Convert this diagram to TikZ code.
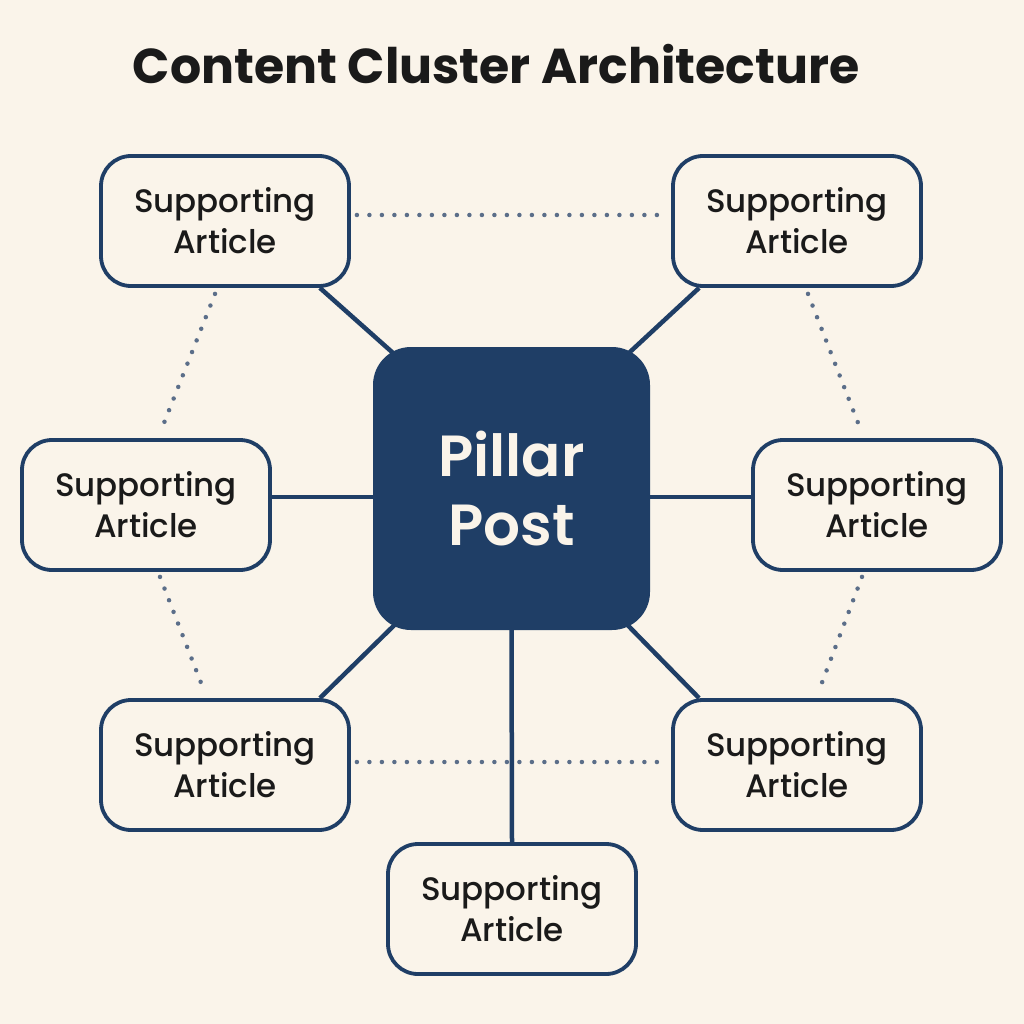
\documentclass[tikz,border=0pt]{standalone}
\usepackage{fontspec}
\setmainfont{Poppins}
\newfontfamily\medfont{Poppins Medium}
\newfontfamily\semifont{Poppins SemiBold}
\usetikzlibrary{calc,backgrounds}
\definecolor{bg}{HTML}{FAF4EA}
\definecolor{navy}{HTML}{1F3E66}
\definecolor{ink}{HTML}{1A1A1A}
\definecolor{dotc}{HTML}{5B6E89}
\tikzset{
  support/.style={draw=navy, line width=3.8pt, rounded corners=30pt, fill=bg,
    minimum width=248pt, minimum height=130pt, inner sep=0pt, align=center,
    text=ink, font=\medfont\fontsize{32.5}{41}\selectfont},
  pillar/.style={fill=navy, rounded corners=38pt, minimum width=277pt,
    minimum height=283pt, inner sep=0pt, align=center, text=bg,
    font=\semifont\fontsize{58}{69}\selectfont},
  link/.style={draw=navy, line width=4.5pt},
  dotlink/.style={draw=dotc, line width=4.5pt, line cap=round, dash pattern=on 0pt off 12.5pt},
}
\begin{document}
\begin{tikzpicture}[x=1pt,y=-1pt]
\useasboundingbox (0,0) rectangle (1024,1024);
\node[font=\bfseries\fontsize{49}{55}\selectfont, text=ink] (title) at (496,64) {Content Cluster Architecture};
\node[pillar] (P) at (511.5,488.5) {Pillar\\Post};
\node[support] (TL) at (225,221) {Supporting\\Article};
\node[support] (TR) at (797,221) {Supporting\\Article};
\node[support] (ML) at (146,505) {Supporting\\Article};
\node[support] (MR) at (877,505) {Supporting\\Article};
\node[support] (BL) at (225,765) {Supporting\\Article};
\node[support] (BR) at (797,765) {Supporting\\Article};
\node[support] (B) at (512,909) {Supporting\\Article};
\begin{scope}[on background layer]
\fill[bg] (0,0) rectangle (1024,1024);
\draw[link] ($(TL.south east)+(-31,0)$) -- ($(P.north west)+(47,30)$);
\draw[link] ($(TR.south west)+(28,0)$) -- ($(P.north east)+(-47,30)$);
\draw[link] ($(BL.north east)+(-31,0)$) -- ($(P.south west)+(47,-30)$);
\draw[link] ($(BR.north west)+(28,0)$) -- ($(P.south east)+(-47,-30)$);
\draw[link] ($(ML.east)+(0,-8)$) -- ($(P.west)+(0,8.5)$);
\draw[link] ($(MR.west)+(0,-8)$) -- ($(P.east)+(0,8.5)$);
\draw[link] (B.north) -- (P.south);
\draw[dotlink] ($(TL.east)+(6,-6)$) -- ($(TR.west)+(-6,-6)$);
\draw[dotlink] ($(BL.east)+(6,-3)$) -- ($(BR.west)+(-6,-3)$);
\draw[dotlink] ($(TL.south)+(-10,6)$) -- ($(ML.north)+(14,-5)$);
\draw[dotlink] ($(TR.south)+(11,6)$) -- ($(MR.north)+(-15,-5)$);
\draw[dotlink] ($(ML.south)+(14,5)$) -- ($(BL.north)+(-20,-5)$);
\draw[dotlink] ($(MR.south)+(-15,5)$) -- ($(BR.north)+(21,-5)$);
\end{scope}
\end{tikzpicture}
\end{document}
